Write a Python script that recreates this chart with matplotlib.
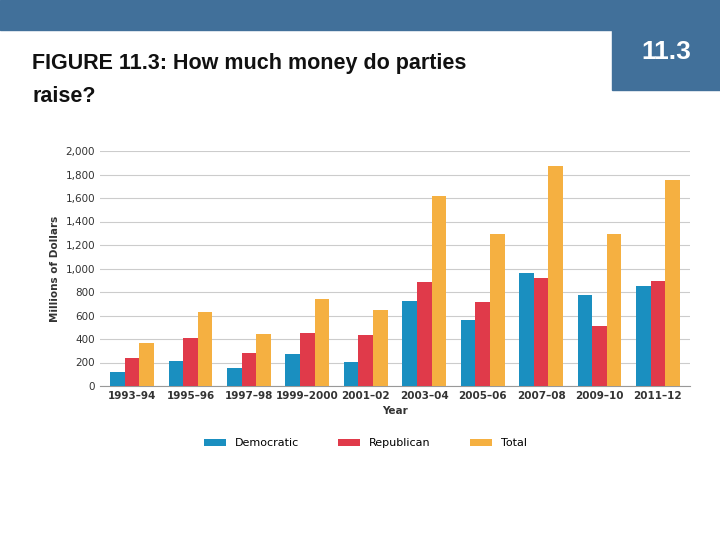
import matplotlib
matplotlib.use("Agg")
import matplotlib.pyplot as plt
import numpy as np
from matplotlib.patches import Rectangle

years = ["1993–94","1995–96","1997–98","1999–2000","2001–02","2003–04","2005–06","2007–08","2009–10","2011–12"]
democratic = [119, 213, 153, 272, 204, 723, 562, 962, 774, 851]
republican = [238, 408, 281, 451, 434, 885, 715, 919, 511, 894]
total = [366, 630, 443, 740, 647, 1617, 1294, 1872, 1294, 1753]

W, H = 720, 540
fig = plt.figure(figsize=(7.2, 5.4), dpi=100)
fig.patches.append(Rectangle((0, 1 - 30/H), 1, 30/H, transform=fig.transFigure, color="#41709a", zorder=0))
fig.patches.append(Rectangle((612/W, 1 - 90/H), 108/W, 90/H, transform=fig.transFigure, color="#41709a", zorder=0))
fig.text(666/W, 1 - 52/H, "11.3", color="white", fontsize=19, fontweight="bold", ha="center", va="center", family="Liberation Sans")
fig.text(32/W, 1 - 63/H, "FIGURE 11.3: How much money do parties", fontsize=15.5, fontweight="bold", color="#111111", ha="left", va="center", family="Liberation Sans")
fig.text(32/W, 1 - 96/H, "raise?", fontsize=15.5, fontweight="bold", color="#111111", ha="left", va="center", family="Liberation Sans")

ax = fig.add_axes([100/W, 1 - 386/H, 590/W, 235/H])
x = np.arange(len(years))
w = 0.25
ax.bar(x - w, democratic, w, color="#1a8fc0", label="Democratic", zorder=3)
ax.bar(x, republican, w, color="#e03a4a", label="Republican", zorder=3)
ax.bar(x + w, total, w, color="#f5b041", label="Total", zorder=3)
ax.set_ylim(0, 2000)
ax.set_xlim(-0.55, len(years) - 0.45)
ax.set_yticks(range(0, 2001, 200))
ax.set_yticklabels([f"{v:,}" for v in range(0, 2001, 200)], fontsize=7.5, color="#333333")
ax.set_xticks(x)
ax.set_xticklabels(years, fontsize=7.5, fontweight="bold", color="#333333")
ax.yaxis.grid(True, color="#cccccc", lw=0.8, zorder=0)
for s in ["top", "right", "left"]:
    ax.spines[s].set_visible(False)
ax.spines["bottom"].set_color("#999999")
ax.tick_params(length=0)
ax.set_ylabel("Millions of Dollars", fontsize=7.5, fontweight="bold", color="#333333")
ax.set_xlabel("Year", fontsize=7.5, fontweight="bold", color="#333333", labelpad=4)
ax.legend(loc="upper center", bbox_to_anchor=(0.45, -0.18), ncol=3, frameon=False, fontsize=8, handlelength=2, handleheight=0.6, columnspacing=3.5)
fig.savefig("out.png", dpi=100)
